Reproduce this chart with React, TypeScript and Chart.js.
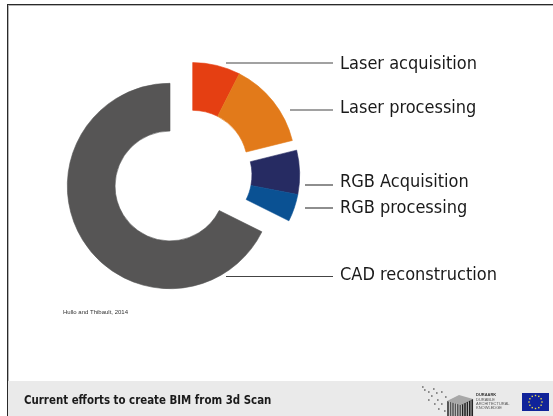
import React, { useEffect, useRef } from "react";
import { Chart, registerables } from "chart.js";

Chart.register(...registerables);

const categories = ["Laser acquisition", "Laser processing", "RGB Acquisition", "RGB processing", "CAD reconstruction"];
const shares = [27, 49, 25, 15.5, 243.5];
const colors = ["#e53f12", "#e27a1a", "#262b62", "#0a5193", "#565555"];
const groupShift = [[22.7, -20.7], [22.7, -20.7], [27, -11], [27, -11], [0, 0]];
const leaderStart = [226, 290, 305, 305, 226];
const leaderY = [63, 110, 185, 208, 276.5];
const labelY = [64, 108, 182, 208, 275];

const UI_FONT = '"DejaVu Sans Condensed", "DejaVu Sans", sans-serif';

const slide = {
  id: "slide",
  beforeDraw(c: any) {
    const x = c.ctx;
    x.save();
    x.fillStyle = "#ffffff";
    x.fillRect(0, 0, 553, 416);
    x.fillStyle = "#eaeaea";
    x.fillRect(8, 381, 545, 35);
    x.fillStyle = "#b5b5b5";
    x.fillRect(8, 5, 545, 1);
    x.fillRect(8, 5, 1, 376);
    x.fillStyle = "#2a2a2a";
    x.fillRect(7, 4, 1, 412);
    x.fillRect(7, 4, 546, 1);
    x.restore();
  },
  afterDatasetsUpdate(c: any) {
    c.getDatasetMeta(0).data.forEach((a: any, i: number) => {
      a.x += groupShift[i][0];
      a.y += groupShift[i][1];
    });
  },
  afterDraw(c: any) {
    const x = c.ctx;
    x.save();
    x.strokeStyle = "#444444";
    x.lineWidth = 1.2;
    x.fillStyle = "#1a1a1a";
    x.textBaseline = "middle";
    x.font = `18px ${UI_FONT}`;
    categories.forEach((name, i) => {
      x.beginPath();
      x.moveTo(leaderStart[i], leaderY[i]);
      x.lineTo(333, leaderY[i]);
      x.stroke();
      x.fillText(name, 340, labelY[i]);
    });
    x.font = `6px "Liberation Sans"`;
    x.fillStyle = "#333333";
    x.fillText("Hullo and Thibault, 2014", 63, 312);
    x.font = `bold 11.4px ${UI_FONT}`;
    x.fillStyle = "#1a1a1a";
    x.fillText("Current efforts to create BIM from 3d Scan", 24, 401);
    x.font = `bold 4px "Liberation Sans"`;
    x.fillStyle = "#333333";
    x.fillText("DURAARK", 476, 395);
    x.font = `4px "Liberation Sans"`;
    x.fillStyle = "#555555";
    ["DURABLE", "ARCHITECTURAL", "KNOWLEDGE"].forEach((t, i) => x.fillText(t, 476, 399.5 + i * 4));
    // EU flag
    x.fillStyle = "#10239a";
    x.fillRect(522, 393, 27, 18);
    x.fillStyle = "#e6d94a";
    for (let i = 0; i < 12; i++) {
      const a = (i * Math.PI) / 6;
      x.fillRect(535.5 + Math.cos(a) * 6.5 - 0.7, 402 + Math.sin(a) * 6.5 - 0.7, 1.4, 1.4);
    }
    // Logo cube: top face, then the two front faces, striped
    const poly = (pts: number[][], fill: string) => {
      x.fillStyle = fill;
      x.beginPath();
      pts.forEach(([a, b], i) => (i ? x.lineTo(a, b) : x.moveTo(a, b)));
      x.closePath();
      x.fill();
    };
    poly([[447, 401], [461, 405], [473, 399], [459, 395]], "#a8a8a8");
    poly([[447, 401], [461, 405], [461, 416], [447, 416]], "#555555");
    poly([[461, 405], [473, 399], [473, 416], [461, 416]], "#222222");
    x.fillStyle = "#dddddd";
    for (let sx = 449; sx < 473; sx += 2.4) {
      const topY = sx < 461 ? 401 + (sx - 447) * (4 / 14) : 405 - (sx - 461) * 0.5;
      x.fillRect(sx, topY, 0.8, 416 - topY);
    }
    x.fillStyle = "#8a8a8a";
    const dots = [[422, 386], [424, 389], [428, 391], [433, 388], [431, 395], [436, 392], [437, 399], [441, 391], [441, 403], [445, 396], [444, 410], [434, 403], [438, 408], [428, 399]];
    dots.forEach(([px, py]) => x.fillRect(px, py, 1.6, 2));
    x.restore();
  },
};

export default function App() {
  const ref = useRef<HTMLCanvasElement>(null);
  useEffect(() => {
    document.body.style.margin = "0";
    const chart = new Chart(ref.current!, {
      type: "doughnut",
      data: {
        labels: categories,
        datasets: [{ data: shares, backgroundColor: colors, borderColor: colors, borderWidth: 0.6, clip: false } as any],
      },
      options: {
        animation: false,
        responsive: false,
        cutout: "53.5%",
        layout: { padding: { left: 67, right: 280, top: 83, bottom: 127 } },
        plugins: { legend: { display: false }, tooltip: { enabled: false } },
      },
      plugins: [slide],
    });
    return () => chart.destroy();
  }, []);
  return <canvas ref={ref} width={553} height={416} style={{ display: "block" }} />;
}
